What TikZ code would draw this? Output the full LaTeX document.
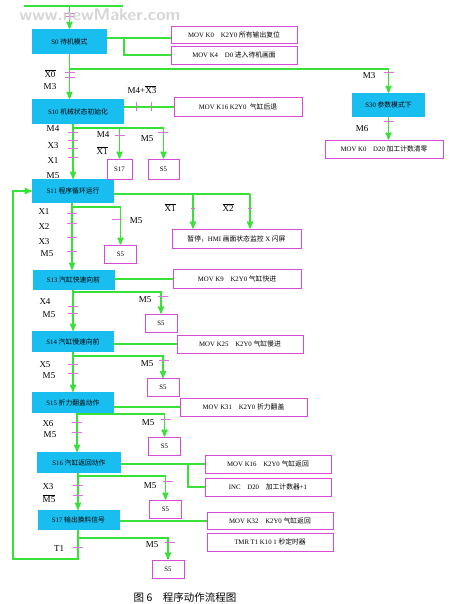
\documentclass[tikz,border=0pt]{standalone}
\usepackage{fontspec}
\setmainfont{Liberation Serif}
\newfontfamily\cjk{Noto Sans CJK SC}
\usetikzlibrary{arrows, positioning}

\definecolor{lgreen}{RGB}{55,225,55}
\definecolor{scyan}{RGB}{25,190,240}
\definecolor{pmag}{RGB}{215,75,215}

\newcommand{\nx}[1]{$\overline{\mbox{#1}}$}

\begin{document}
\begin{tikzpicture}[x=1pt,y=-1pt,>=stealth',
	st/.style={fill=scyan,inner sep=0pt,minimum height=21pt,minimum width=82pt,font=\fontsize{6.8}{8}\selectfont},
	act/.style={draw=pmag,fill=white,line width=0.8pt,inner sep=0pt,minimum height=18pt,minimum width=126pt,font=\fontsize{6.8}{8}\selectfont},
	jmp/.style={draw=pmag,fill=white,line width=0.8pt,inner sep=0pt,minimum height=18pt,minimum width=32pt,font=\fontsize{6.8}{8}\selectfont},
	ln/.style={draw=lgreen,line width=1.5pt},
	tk/.style={draw=pmag!80,line width=0.7pt},
	lb/.style={font=\fontsize{9}{10}\selectfont,inner sep=0pt}]

	\useasboundingbox[fill=white] (0,0) rectangle (450,604);

	% states
	\node[st,minimum width=75pt,minimum height=25pt] (s0) at (69.5,41.5) {S0 {\cjk 待机模式}};
	\node[st,minimum width=92pt,minimum height=25pt] (s10) at (78,111.5) {S10 {\cjk 机械状态初始化}};
	\node[st,minimum width=73pt,minimum height=24pt] (s30) at (388.5,105) {S30 {\cjk 参数模式下}};
	\node[st,minimum height=24pt] (s11) at (73,191) {S11 {\cjk 程序循环运行}};
	\node[st,minimum height=20pt] (s13) at (73.5,280) {S13 {\cjk 汽缸快速向前}};
	\node[st] (s14) at (73,341.5) {S14 {\cjk 汽缸慢速向前}};
	\node[st] (s15) at (73,402.5) {S15 {\cjk 折力翻盖动作}};
	\node[st,minimum width=84pt] (s16) at (79,462.5) {S16 {\cjk 汽缸返回动作}};
	\node[st,minimum height=20pt] (s17) at (78.5,520) {S17 {\cjk 输出换料信号}};

	% actions
	\node[act,minimum height=17pt] (a0a) at (234,34.5) {MOV K0\quad K2Y0 {\cjk 所有输出复位}};
	\node[act] (a0b) at (234,55) {MOV K4\quad D0 {\cjk 进入待机画面}};
	\node[act,minimum width=128pt,minimum height=19pt] (a10) at (238,107) {MOV K16 K2Y0\ \ {\cjk 气缸后退}};
	\node[act,minimum width=118pt] (a30) at (384,149) {MOV K0\quad D20 {\cjk 加工计数清零}};
	\node[act,minimum width=129pt,minimum height=19pt] (a11) at (236.5,238.5) {{\cjk 暂停，}HMI {\cjk 画面状态监控} X {\cjk 闪屏}};
	\node[act,minimum width=128pt,minimum height=19pt] (a13) at (237,279) {MOV K9\quad K2Y0 {\cjk 气缸快进}};
	\node[act] (a14) at (240,344) {MOV K25\quad K2Y0 {\cjk 气缸慢进}};
	\node[act,minimum width=127pt] (a15) at (243.5,407) {MOV K31\quad K2Y0 {\cjk 折力翻盖}};
	\node[act] (a16a) at (268,464) {MOV K16\quad K2Y0 {\cjk 气缸返回}};
	\node[act] (a16b) at (268,487) {INC\quad D20\quad {\cjk 加工计数器}+1};
	\node[act,minimum height=17pt] (a17a) at (270,521) {MOV K32\quad K2Y0 {\cjk 气缸返回}};
	\node[act] (a17b) at (270,542) {TMR T1 K10 1 {\cjk 秒定时器}};

	% jumps
	\node[jmp,minimum width=25pt,minimum height=20pt] (j17) at (119.5,169) {S17};
	\node[jmp,minimum width=31pt,minimum height=20pt] (j5a) at (163.5,169) {S5};
	\node[jmp] (j5b) at (120.5,254) {S5};
	\node[jmp] (j5c) at (161,323) {S5};
	\node[jmp] (j5d) at (163,387.5) {S5};
	\node[jmp] (j5e) at (164.5,446) {S5};
	\node[jmp] (j5f) at (165.5,509) {S5};
	\node[jmp] (j5g) at (168,569) {S5};

	% trunk points
	\coordinate (top1) at (24,6);
	\coordinate (top2) at (123,6);
	\coordinate (t10) at (73,124);
	\coordinate (t11) at (72,203);
	\coordinate (t13) at (73,290);
	\coordinate (t14) at (73,352);
	\coordinate (t15) at (77,413);
	\coordinate (t16) at (78,473);
	\coordinate (t17) at (78,530);

	% S0
	\draw[ln] (top1) -- (top2);
	\draw[ln,->] (s0.north |- top1) -- (s0.north);
	\draw[ln] ([yshift=3.5pt]s0.east) -- ([yshift=3.5pt]s0.east -| a0a.west);
	\draw[ln] ([xshift=17pt,yshift=3.5pt]s0.east) |- (a0b.west);
	\draw[ln,->] (s0.south) -- (s0.south |- s10.north);
	\draw[ln,->] (s0.south |- 0,69) -| (s30.north);
	\draw[ln,->] (s30.south) -- (s30.south |- a30.north);

	% S10
	\draw[ln] (s10.east |- a10.west) -- (a10.west);
	\draw[ln,->] (t10) -- (t10 |- s11.north);
	\draw[ln,->] (t10 |- 0,128) -| (j5a.north);
	\draw[ln,->] (j17.north |- 0,128) -- (j17.north);

	% S11
	\draw[ln] (s11.east |- 0,194) -- (250,194);
	\draw[ln,->] (193,194) -- (193,194 |- a11.north);
	\draw[ln,->] (250,194) -- (250,194 |- a11.north);
	\draw[ln,->] (t11) -- (t11 |- s13.north);
	\draw[ln,->] (t11 |- 0,207) -| (j5b.north);

	% S13 .. S16
	\draw[ln] (s13.east |- a13.west) -- (a13.west);
	\draw[ln,->] (t13) -- (t13 |- s14.north);
	\draw[ln,->] (t13 |- 0,292) -| (j5c.north);
	\draw[ln] (s14.east |- a14.west) -- (a14.west);
	\draw[ln,->] (t14) -- (t14 |- s15.north);
	\draw[ln,->] (t14 |- 0,356) -| (j5d.north);
	\draw[ln] (s15.east |- a15.west) -- (a15.west);
	\draw[ln,->] (t15) -- (t15 |- s16.north);
	\draw[ln,->] (t15 |- 0,414) -| (j5e.north);
	\draw[ln] (s16.east |- a16a.west) -- (a16a.west);
	\draw[ln] (188,464) |- (a16b.west);
	\draw[ln,->] (t16) -- (t16 |- s17.north);
	\draw[ln,->] (t16 |- 0,476) -| (j5f.north);

	% S17 and loop back
	\draw[ln] (s17.east |- a17a.west) -- (a17a.west);
	\draw[ln,->] (t17) -- (78,559) -- (13,559) -- (13,191) -- (s11.west);
	\draw[ln,->] (t17 |- 0,538) -| (j5g.north);

	% ticks
	\foreach \y in {13,16,72,77} \draw[tk] (64.5,\y) -- +(10,0);
	\draw[tk] (383.5,72) -- +(10,0);
	\draw[tk] (383.5,121) -- +(10,0);
	\foreach \x in {136,151} \draw[tk] (\x,102) -- +(0,9);
	\foreach \y in {132,140,148,157} \draw[tk] (68,\y) -- +(10,0);
	\draw[tk] (115,135) -- +(10,0);
	\draw[tk] (158,132) -- +(10,0);
	\foreach \x in {193,250} \draw[tk] (\x-2,208) -- +(4,0);
	\foreach \y in {213,223,237,251} \draw[tk] (67,\y) -- +(10,0);
	\draw[tk] (112,219) -- +(10,0);
	\foreach \y in {306,313} \draw[tk] (68,\y) -- +(10,0);
	\draw[tk] (158,296) -- +(10,0);
	\foreach \y in {364,373} \draw[tk] (68,\y) -- +(10,0);
	\draw[tk] (159,360) -- +(10,0);
	\foreach \y in {422,432} \draw[tk] (72,\y) -- +(10,0);
	\draw[tk] (161,419) -- +(10,0);
	\foreach \y in {485,495} \draw[tk] (73,\y) -- +(10,0);
	\draw[tk] (163,481) -- +(10,0);
	\draw[tk] (73,547) -- +(10,0);
	\draw[tk] (165,542) -- +(10,0);

	% conditions
	\node[lb] (c1) at (50,74) {\nx{X0}};
	\node[lb] (c2) at (50,87) {M3};
	\node[lb] (c3) at (369,76) {M3};
	\node[lb] (c4) at (142,90) {M4+\nx{X3}};
	\node[lb] (c5) at (362,129) {M6};
	\node[lb] (c6) at (53,129) {M4};
	\node[lb] (c7) at (53,146) {X3};
	\node[lb] (c8) at (53,161) {X1};
	\node[lb] (c9) at (53,176) {M5};
	\node[lb] (c10) at (103,135) {M4};
	\node[lb] (c11) at (102,151) {\nx{X1}};
	\node[lb] (c12) at (147,139) {M5};
	\node[lb] (c13) at (170,208) {\nx{X1}};
	\node[lb] (c14) at (228,208) {\nx{X2}};
	\node[lb] (c15) at (44,212) {X1};
	\node[lb] (c16) at (44,227) {X2};
	\node[lb] (c17) at (44,242) {X3};
	\node[lb] (c18) at (47,254) {M5};
	\node[lb] (c19) at (136,221) {M5};
	\node[lb] (c20) at (45,302) {X4};
	\node[lb] (c21) at (49,315) {M5};
	\node[lb] (c22) at (145,300) {M5};
	\node[lb] (c23) at (45,365) {X5};
	\node[lb] (c24) at (49,376) {M5};
	\node[lb] (c25) at (147,364) {M5};
	\node[lb] (c26) at (48,424) {X6};
	\node[lb] (c27) at (50,435) {M5};
	\node[lb] (c28) at (148,423) {M5};
	\node[lb] (c29) at (48,487) {X3};
	\node[lb] (c30) at (49,499) {\nx{M5}};
	\node[lb] (c31) at (150,486) {M5};
	\node[lb] (c32) at (59,549) {T1};
	\node[lb] (c33) at (152,545) {M5};

	% watermark and caption
	\node[text=gray!40,opacity=0.8,font=\sffamily\bfseries\fontsize{17}{17}\selectfont] (wm) at (100,15) {www.newMaker.com};
	\node[font=\cjk\fontsize{10.5}{12}\selectfont] (cap) at (185,597) {图 6\quad 程序动作流程图};
		      \end{tikzpicture}
\end{document}
